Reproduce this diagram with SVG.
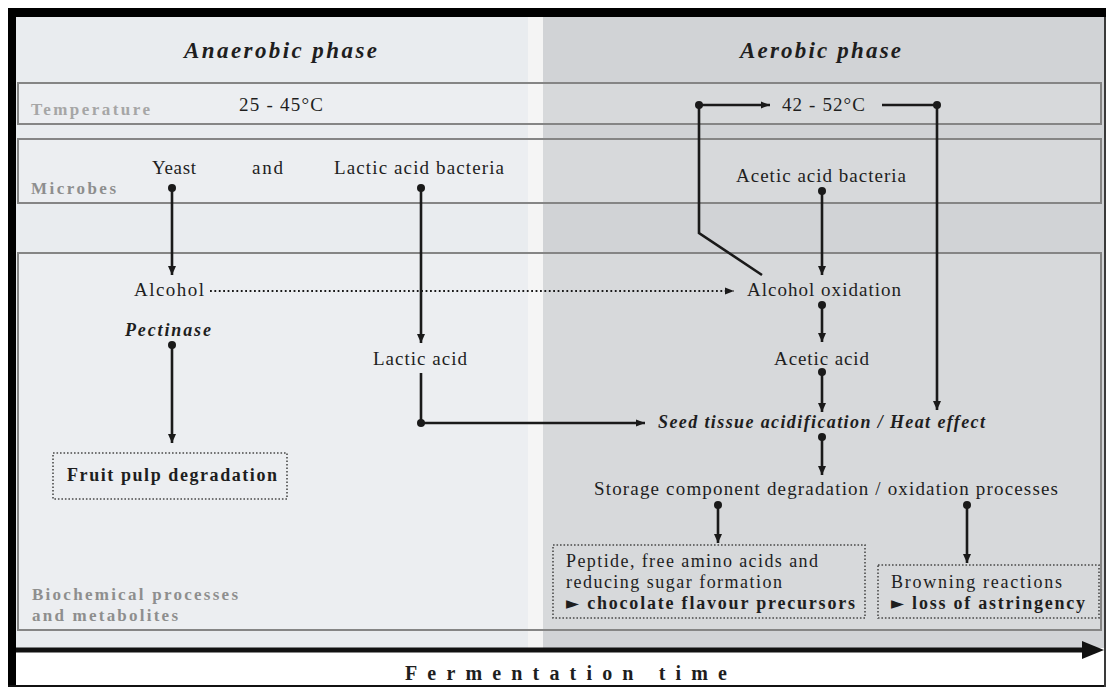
<svg xmlns="http://www.w3.org/2000/svg" width="1106" height="687" viewBox="0 0 1106 687">
<style>
.t{font-family:"Liberation Serif","Times New Roman",serif;font-size:19px;fill:#1e1e1e}
.bi{font-weight:bold;font-style:italic}
.b{font-weight:bold}
.lbl{font-family:"Liberation Serif","Times New Roman",serif;font-weight:bold;font-size:17px;fill:#8e8e8e}
.band{fill:#ffffff;fill-opacity:0.14;stroke:#858585;stroke-width:2}
.box{fill:none;stroke:#4a4a4a;stroke-width:1.6;stroke-dasharray:1.6 1.9}
.c{fill:none;stroke:#1a1a1a;stroke-width:2.6}
.dot{fill:none;stroke:#1a1a1a;stroke-width:2;stroke-dasharray:1.8 2.6}
.sym{font-family:"DejaVu Sans",sans-serif;font-size:17px}
.sm{font-size:18px}
</style>
<defs>
<marker id="ah" markerUnits="userSpaceOnUse" markerWidth="9" markerHeight="9" refX="9" refY="4.5" orient="auto"><path d="M0,0.5 L9,4.5 L0,8.5 z" fill="#1a1a1a"/></marker>
<marker id="ahs" markerUnits="userSpaceOnUse" markerWidth="9" markerHeight="8" refX="9" refY="4" orient="auto"><path d="M0,0.5 L9,4 L0,7.5 z" fill="#1a1a1a"/></marker>
<marker id="dt" markerUnits="userSpaceOnUse" markerWidth="10" markerHeight="10" refX="5" refY="5" orient="auto"><circle cx="5" cy="5" r="4" fill="#1a1a1a"/></marker>
</defs>

<g id="background">
<rect x="0" y="0" width="1106" height="687" fill="#ffffff"/>
<rect x="16" y="17" width="512" height="631" fill="#e9ecef"/>
<rect x="528" y="17" width="15" height="631" fill="#f4f4f4"/>
<rect x="543" y="17" width="561" height="631" fill="#d1d3d6"/>
<rect x="8" y="8" width="1098" height="9" fill="#000000"/>
<rect x="8" y="8" width="8" height="679" fill="#000000"/>
<rect x="8" y="685" width="1098" height="2" fill="#111111"/>
<rect x="1104" y="17" width="2" height="670" fill="#3a3a3a"/>
</g>

<g id="bands">
<rect class="band" x="18" y="83" width="1083" height="41"/>
<rect class="band" x="18" y="139" width="1083" height="64"/>
<rect class="band" x="18" y="253" width="1083" height="377"/>
<text class="lbl" x="31" y="115" textLength="119" lengthAdjust="spacing" style="fill:#a6a6a6">Temperature</text>
<text class="lbl" x="31" y="194" textLength="85" lengthAdjust="spacing">Microbes</text>
<text class="lbl" x="32" y="600" textLength="206" lengthAdjust="spacing">Biochemical processes</text>
<text class="lbl" x="32" y="621" textLength="146" lengthAdjust="spacing">and metabolites</text>
</g>

<g id="titles">
<text class="t bi" x="184" y="58" style="font-size:23px" textLength="193" lengthAdjust="spacing">Anaerobic phase</text>
<text class="t bi" x="740" y="58" style="font-size:23px" textLength="161" lengthAdjust="spacing">Aerobic phase</text>
</g>

<g id="temp-anaerobic"><text class="t" x="239" y="111" textLength="84" lengthAdjust="spacing">25 - 45°C</text></g>
<g id="temp-aerobic"><text class="t" x="782" y="111" textLength="83" lengthAdjust="spacing">42 - 52°C</text></g>
<g id="yeast"><text class="t" x="152" y="174" textLength="44" lengthAdjust="spacing">Yeast</text></g>
<g id="and"><text class="t" x="252" y="174" textLength="31" lengthAdjust="spacing">and</text></g>
<g id="lab"><text class="t" x="334" y="174" textLength="170" lengthAdjust="spacing">Lactic acid bacteria</text></g>
<g id="aab"><text class="t" x="736" y="182" textLength="170" lengthAdjust="spacing">Acetic acid bacteria</text></g>
<g id="alcohol"><text class="t" x="134" y="296" textLength="70" lengthAdjust="spacing">Alcohol</text></g>
<g id="alcohol-oxidation"><text class="t" x="747" y="296" textLength="154" lengthAdjust="spacing">Alcohol oxidation</text></g>
<g id="pectinase"><text class="t bi sm" x="125" y="336" textLength="86" lengthAdjust="spacing">Pectinase</text></g>
<g id="lactic-acid"><text class="t" x="373" y="365" textLength="94" lengthAdjust="spacing">Lactic acid</text></g>
<g id="acetic-acid"><text class="t" x="774" y="365" textLength="95" lengthAdjust="spacing">Acetic acid</text></g>
<g id="seed"><text class="t bi sm" x="658" y="428" textLength="327" lengthAdjust="spacing">Seed tissue acidification / Heat effect</text></g>
<g id="fruit-pulp">
<rect class="box" x="53" y="453" width="234" height="46"/>
<text class="t b sm" x="67" y="481" textLength="210" lengthAdjust="spacing">Fruit pulp degradation</text>
</g>
<g id="storage"><text class="t" x="594" y="495" textLength="464" lengthAdjust="spacing">Storage component degradation / oxidation processes</text></g>
<g id="peptide">
<rect class="box" x="553" y="545" width="312" height="73"/>
<text class="t sm" x="566" y="567" textLength="252" lengthAdjust="spacing">Peptide, free amino acids and</text>
<text class="t sm" x="566" y="588" textLength="216" lengthAdjust="spacing">reducing sugar formation</text>
<text class="t b sm" x="566" y="609" textLength="289" lengthAdjust="spacing"><tspan class="sym">►</tspan> chocolate flavour precursors</text>
</g>
<g id="browning">
<rect class="box" x="878" y="565" width="221" height="53"/>
<text class="t sm" x="891" y="588" textLength="171" lengthAdjust="spacing">Browning reactions</text>
<text class="t b sm" x="891" y="609" textLength="194" lengthAdjust="spacing"><tspan class="sym">►</tspan> loss of astringency</text>
</g>

<g id="time-axis">
<line x1="16" y1="650" x2="1085" y2="650" stroke="#111111" stroke-width="5"/>
<polygon points="1082,641 1104,650 1082,659" fill="#111111"/>
<text class="t b" x="405" y="680" style="font-size:20px" textLength="322" lengthAdjust="spacing">Fermentation time</text>
</g>

<g id="connectors">
<line class="c" x1="172" y1="188" x2="172" y2="275" marker-start="url(#dt)" marker-end="url(#ah)"/>
<line class="c" x1="421" y1="188" x2="421" y2="343" marker-start="url(#dt)" marker-end="url(#ah)"/>
<polyline class="c" points="421,373 421,423 645,423" marker-end="url(#ahs)"/>
<circle cx="421" cy="423" r="4" fill="#1a1a1a"/>
<line class="dot" x1="210" y1="291" x2="734" y2="291" marker-end="url(#ahs)"/>
<line class="c" x1="172" y1="345" x2="172" y2="443" marker-start="url(#dt)" marker-end="url(#ah)"/>
<line class="c" x1="822" y1="191" x2="822" y2="275" marker-start="url(#dt)" marker-end="url(#ah)"/>
<line class="c" x1="822" y1="305" x2="822" y2="342" marker-start="url(#dt)" marker-end="url(#ah)"/>
<line class="c" x1="822" y1="372" x2="822" y2="412" marker-start="url(#dt)" marker-end="url(#ah)"/>
<line class="c" x1="822" y1="437" x2="822" y2="475" marker-start="url(#dt)" marker-end="url(#ah)"/>
<line class="c" x1="718" y1="505" x2="718" y2="543" marker-start="url(#dt)" marker-end="url(#ah)"/>
<line class="c" x1="967" y1="505" x2="967" y2="563" marker-start="url(#dt)" marker-end="url(#ah)"/>
<polyline class="c" points="762,275 699,233 699,105 770,105" marker-end="url(#ahs)"/>
<circle cx="699" cy="105" r="4" fill="#1a1a1a"/>
<polyline class="c" points="882,105 937,105 937,410" marker-end="url(#ah)"/>
<circle cx="937" cy="105" r="4" fill="#1a1a1a"/>
</g>
</svg>
